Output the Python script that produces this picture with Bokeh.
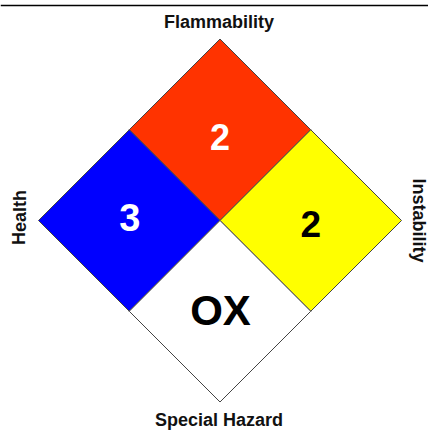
from bokeh.plotting import figure
from bokeh.models import Range1d, ColumnDataSource
from bokeh.core.properties import value
from bokeh.embed import file_html
from bokeh.resources import INLINE

# ---- data ----
quadrants = ["Flammability", "Health", "Instability", "Special Hazard"]
ratings = ["2", "3", "2", "OX"]
fill_colors = ["#FF3300", "#0000FF", "#FFFF00", "#FFFFFF"]
rating_colors = ["#FFFFFF", "#FFFFFF", "#000000", "#000000"]

# ---- layout (picture pixel coordinates) ----
W, H = 428, 430
cx, cy, hd = 219.5, 220.0, 181.5          # diamond centre and half diagonal
FONT = "Liberation Sans"

p = figure(width=W, height=H, output_backend="svg", toolbar_location=None,
           x_range=Range1d(0, W), y_range=Range1d(H, 0),
           min_border=0, outline_line_color=None, background_fill_color="white",
           border_fill_color="white")
p.axis.visible = False
p.grid.visible = False

# quadrant geometry: direction of each quadrant's centre from the diamond centre
dirs = [(0, -1), (-1, 0), (1, 0), (0, 1)]
xs, ys, qcx, qcy = [], [], [], []
for dx, dy in dirs:
    mx, my = cx + dx * hd / 2, cy + dy * hd / 2
    qcx.append(mx); qcy.append(my)
    xs.append([mx - hd / 2, mx, mx + hd / 2, mx])
    ys.append([my, my - hd / 2, my, my + hd / 2])

src = ColumnDataSource(dict(xs=xs, ys=ys, fill=fill_colors))
p.patches("xs", "ys", source=src, fill_color="fill", line_color="#444444", line_width=1)

# rating numbers
num_dy = [7.5, -3.5, 3.0, -0.5]
num_dx = [0.0, 0.5, 0.0, 0.5]
num_size = ["36px", "38px", "37px", "42px"]
tsrc = ColumnDataSource(dict(x=[q + d for q, d in zip(qcx, num_dx)],
                             y=[q + d for q, d in zip(qcy, num_dy)],
                             t=ratings, c=rating_colors, s=num_size))
p.text("x", "y", text="t", source=tsrc, text_color="c", text_font_size="s",
       text_font=value(FONT), text_font_style="bold", text_align="center",
       text_baseline="alphabetic")

# outer labels
lab_x = [cx - 1, 19.0, 418.0, cx - 1]
lab_y = [21.0, 217.0, 220.0, 419.0]
lab_a = [0.0, 1.5707963, -1.5707963, 0.0]
lsrc = ColumnDataSource(dict(x=lab_x, y=lab_y, t=quadrants, a=lab_a))
p.text("x", "y", text="t", angle="a", source=lsrc, text_color="#111111",
       text_font_size="18px", text_font=value(FONT), text_font_style="bold",
       text_align="center", text_baseline="alphabetic")

# top rule
p.segment(x0=[0], y0=[5.0], x1=[W], y1=[5.0], line_color="black", line_width=1.5)

open("out.html", "w").write(file_html(p, INLINE))
